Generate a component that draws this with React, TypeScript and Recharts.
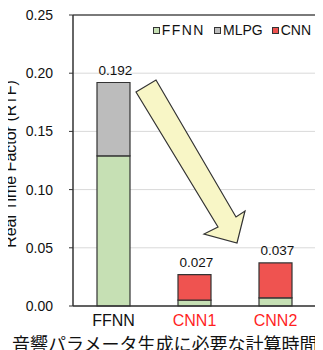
import {
    BarChart,
    Bar,
    XAxis,
    YAxis,
    CartesianGrid,
    LabelList,
    Label
} from 'recharts'

// categories and stacked values (RTF)
const categories = ['FFNN', 'CNN1', 'CNN2']
const ffnnPart = [0.129, 0.005, 0.007]
const mlpgPart = [0.063, 0, 0]
const cnnPart = [0, 0.022, 0.030]
const totals = [0.192, 0.027, 0.037]
const yTicks = [0, 0.05, 0.1, 0.15, 0.2, 0.25]
const tickColors = ['#111111', '#ff1f1f', '#ff1f1f']

const seriesNames = ['FFNN', 'MLPG', 'CNN']
const seriesColors = ['#c6e0b4', '#bcbcbc', '#ef5350']

const data = categories.map((c, i) => ({
    name: c,
    ffnn: ffnnPart[i],
    mlpg: mlpgPart[i],
    cnn: cnnPart[i]
}))

const FONT = '"Liberation Sans", Arial, sans-serif'

function XTick(props: any) {
    const { x, y, payload, index } = props
    return (
        <text x={x} y={y} dy={12} textAnchor="middle" fontSize={16}
            fontFamily={FONT} fill={tickColors[index]}>
            {payload.value}
        </text>
    )
}

// total label on the topmost non-empty segment
function topLabel(series: number[]) {
    return (props: any) => {
        const { x, y, width, value } = props
        const i = categories.indexOf(value)
        if (i < 0 || !series[i]) return null
        return (
            <text x={x + width / 2 + 2} y={y - 8} textAnchor="middle" fontSize={13.5}
                fill="#111" fontFamily={FONT}>
                {totals[i].toFixed(3)}
            </text>
        )
    }
}

function LegendBox() {
    return (
        <div style={{
            position: 'absolute', top: 22, right: 12, display: 'flex',
            fontFamily: FONT, fontSize: 14, color: '#111', lineHeight: '16px'
        }}>
            {seriesNames.map((n, i) => (
                <div key={n} style={{ display: 'flex', alignItems: 'center', marginLeft: i ? 9 : 0 }}>
                    <span style={{
                        width: 5, height: 5, background: seriesColors[i],
                        border: '1px solid #333', marginRight: 2
                    }} />
                    <span style={{ letterSpacing: i === 0 ? 1.5 : 0 }}>{n}</span>
                </div>
            ))}
        </div>
    )
}

// big yellow arrow and y title drawn over the chart (annotation only)
function Overlay() {
    const pts = [
        [136, 92], [156, 80], [236, 217], [245, 211],
        [237, 243], [204, 234], [218, 227]
    ]
    return (
        <svg width={323} height={350} style={{ position: 'absolute', left: 0, top: 0, pointerEvents: 'none' }}>
            <polygon points={pts.map(p => p.join(',')).join(' ')}
                fill="#f8f6c6" stroke="#333" strokeWidth={1.2} strokeLinejoin="miter" />
            <text x={0} y={0} transform="translate(16 164) rotate(-90)" textAnchor="middle"
                fontSize={16} fill="#111" fontFamily={FONT}>
                Real Time Factor (RTF)
            </text>
        </svg>
    )
}

export default function App() {
    return (
        <div style={{ position: 'relative', width: 323, height: 350, margin: '-8px 0 0 -8px', overflow: 'hidden' }}>
            <BarChart width={323} height={350} data={data}
                margin={{ top: 15, right: 7, left: 0, bottom: 0 }}
                barSize={33}>
                <CartesianGrid vertical={false} stroke="#d9d9d9" />
                <CartesianGrid stroke="#555" strokeWidth={1.5}
                    horizontalCoordinatesGenerator={({ offset }: any) => [offset.top]}
                    verticalCoordinatesGenerator={({ offset }: any) => [offset.left + offset.width]} />
                <XAxis dataKey="name" tick={<XTick />} tickLine={false}
                    axisLine={{ stroke: '#333', strokeWidth: 1.5 }} height={44}>
                    <Label content={() => (
                        <text x={12} y={351} fontSize={18} fill="#111"
                            fontFamily='"Noto Sans CJK JP", sans-serif'>
                            音響パラメータ生成に必要な計算時間
                        </text>
                    )} />
                </XAxis>
                <YAxis domain={[0, 0.25]} ticks={yTicks} width={73}
                    tickFormatter={(v: number) => v.toFixed(2)}
                    tick={{ fontSize: 14, fill: '#111', fontFamily: FONT }}
                    tickSize={4} tickMargin={16}
                    tickLine={{ stroke: '#333' }}
                    axisLine={{ stroke: '#333', strokeWidth: 1.5 }} />
                <Bar dataKey="ffnn" stackId="a" fill={seriesColors[0]}
                    stroke="#333" strokeWidth={1.2} isAnimationActive={false} />
                <Bar dataKey="mlpg" stackId="a" fill={seriesColors[1]}
                    stroke="#333" strokeWidth={1.2} isAnimationActive={false}>
                    <LabelList dataKey="name" content={topLabel(mlpgPart)} />
                </Bar>
                <Bar dataKey="cnn" stackId="a" fill={seriesColors[2]}
                    stroke="#333" strokeWidth={1.2} isAnimationActive={false}>
                    <LabelList dataKey="name" content={topLabel(cnnPart)} />
                </Bar>
            </BarChart>
            <LegendBox />
            <Overlay />
        </div>
    )
}
